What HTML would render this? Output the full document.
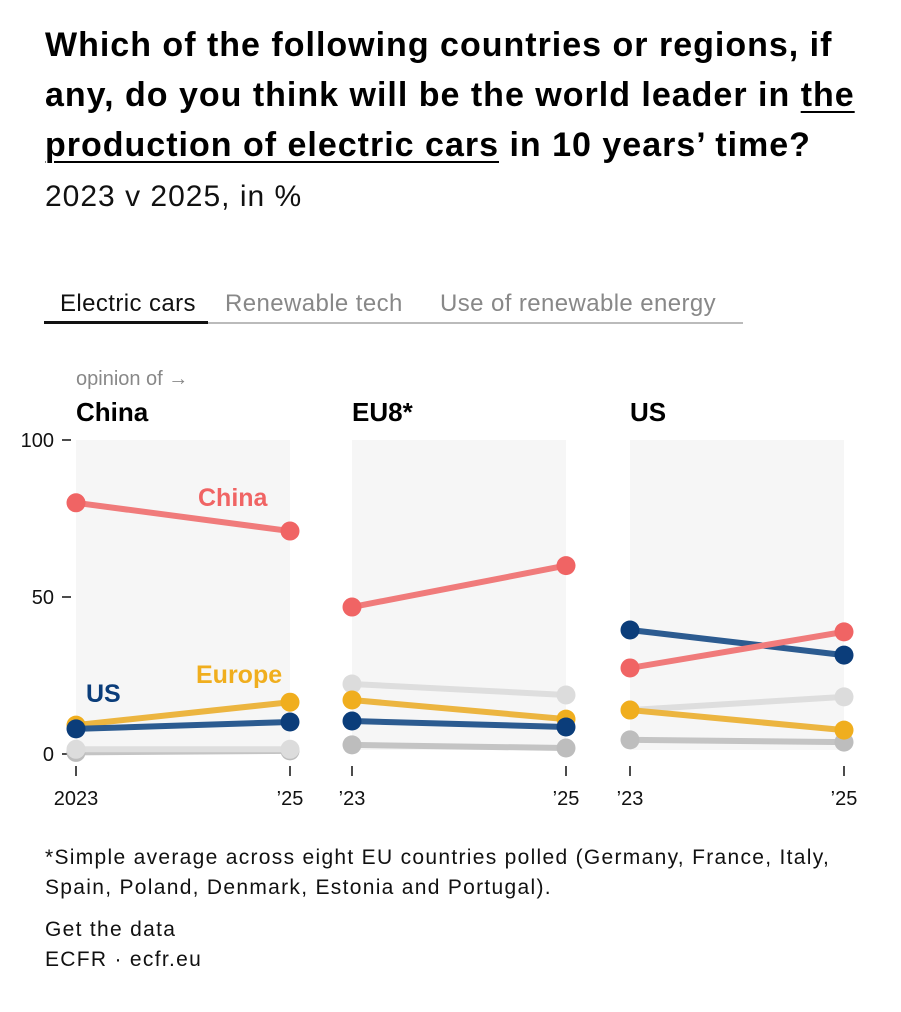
<!DOCTYPE html>
<html><head><meta charset="utf-8"><style>
body{margin:0;background:#fff;width:901px;height:1012px;overflow:hidden;font-family:"Liberation Sans",sans-serif;}
#title{position:absolute;left:45px;top:20px;font-size:34px;font-weight:bold;line-height:50px;color:#000;letter-spacing:1px;white-space:nowrap}
#title u{text-decoration-thickness:2px;text-underline-offset:5px}
#sub{position:absolute;left:45px;top:180px;font-size:30px;color:#111;letter-spacing:1px}
.tab{position:absolute;top:290px;font-size:24px;color:#888;letter-spacing:0.4px}
#foot{position:absolute;left:45px;top:843px;font-size:21px;line-height:30px;color:#111;letter-spacing:1.3px;white-space:nowrap}
</style></head><body>
<div id="title">Which of the following countries or regions, if<br>any, do you think will be the world leader in <u>the</u><br><u>production of electric cars</u> in 10 years’ time?</div>
<div id="sub">2023 v 2025, in %</div>
<div class="tab" style="left:60px;color:#111">Electric cars</div>
<div class="tab" style="left:225px">Renewable tech</div>
<div class="tab" style="left:440px">Use of renewable energy</div>
<div style="position:absolute;left:44px;top:322px;width:699px;height:2px;background:#bbb"></div>
<div style="position:absolute;left:44px;top:321px;width:164px;height:3px;background:#111"></div>
<svg id="chart" width="901" height="1012" style="position:absolute;left:0;top:0"></svg>
<div id="foot">*Simple average across eight EU countries polled (Germany, France, Italy,<br>Spain, Poland, Denmark, Estonia and Portugal).<div style="height:12px"></div>Get the data<br>ECFR · ecfr.eu</div>
<script>
const panels=["China","EU8*","US"];
const seriesNames=["none","other","Europe","US","China"];
const vChina=[[0.5,1],[1.5,1.5],[9.2,16.5],[8,10.2],[80,71]];
const vEU8=[[2.9,1.9],[22.3,18.8],[17.2,11.1],[10.5,8.6],[46.8,60]];
const vUS=[[4.5,3.8],[14,18.2],[14,7.6],[39.5,31.5],[27.4,38.9]];
const yTicks=[0,50,100];
const data=[vChina,vEU8,vUS];
const lineCol=["#c4c4c4","#dedede","#ecb540","#2c5b90","#f07b7b"];
const dotCol=["#bdbdbd","#dcdcdc","#f0ae1e","#0b3d7a","#f06464"];
const NS="http://www.w3.org/2000/svg",svg=document.getElementById('chart');
const y=v=>754-v*3.14;
const px=[76,352,630],W=214;
function el(t,a,p){const e=document.createElementNS(NS,t);for(const k in a)e.setAttribute(k,a[k]);(p||svg).appendChild(e);return e;}
function txt(s,a){const e=el('text',a);e.textContent=s;return e;}
let t=txt('opinion of →',{x:76,y:385,'font-size':20,fill:'#888'});


yTicks.forEach(v=>{
 const l=el('line',{x1:62,x2:71,y1:y(v),y2:y(v),stroke:'#111','stroke-width':1.5});
 
 
 const tt=txt(String(v),{x:54,y:y(v)+7,'font-size':20,'text-anchor':'end',fill:'#111'});
 
 
});
panels.forEach((p,i)=>{
 const x0=px[i],x1=x0+W;
 const bg=el('rect',{x:x0,y:y(100),width:W,height:y(0)-y(100)-4,fill:'#f6f6f6'});
 
 
 const h=txt(p,{x:x0,y:421,'font-size':26,'font-weight':'bold',fill:'#000'});
 
 
 [[x0,i==0?'2023':'\u201923'],[x1,'\u201925']].forEach(([xx,s])=>{
  const tk=el('line',{x1:xx,x2:xx,y1:766,y2:776,stroke:'#111','stroke-width':1.5});
  
  
  const lb=txt(s,{x:xx,y:805,'font-size':20,'text-anchor':'middle',fill:'#111'});
  
  
 });
 data[i].forEach((vals,s)=>{
  const ln=el('line',{x1:x0,y1:y(vals[0]),x2:x1,y2:y(vals[1]),stroke:lineCol[s],'stroke-width':6});
  
  
  [x0,x1].forEach((xx,k)=>{
   const c=el('circle',{cx:xx,cy:y(vals[k]),r:9.5,fill:dotCol[s]});
   
   
  });
 });
});
[['China',198,506,'#f06464'],['Europe',196,683,'#f0ae1e'],['US',86,702,'#0b3d7a']].forEach(([s,x,yy,c])=>{
 const e=txt(s,{x:x,y:yy,'font-size':25,'font-weight':'bold',fill:c});
 
 
});
</script>
</body></html>
